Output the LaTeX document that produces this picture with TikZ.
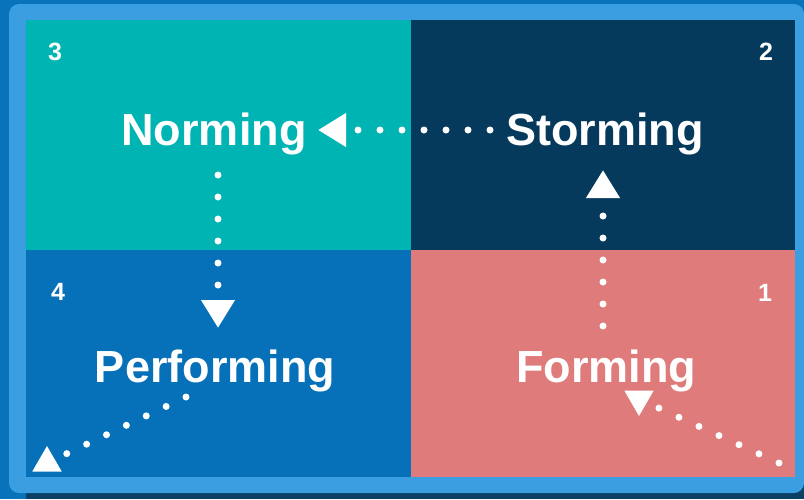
\documentclass[tikz,border=0pt]{standalone}
\usepackage{fontspec}
\setmainfont{Liberation Sans}
\usetikzlibrary{arrows.meta,shapes.geometric}

\definecolor{frameDark}{HTML}{0872BA}
\definecolor{frameLight}{HTML}{3A9EE0}
\definecolor{frameShadow}{HTML}{0B3F63}
\definecolor{qTeal}{HTML}{00B4B4}
\definecolor{qNavy}{HTML}{063A5C}
\definecolor{qBlue}{HTML}{0670B8}
\definecolor{qSalmon}{HTML}{E07B7B}

\begin{document}
\begin{tikzpicture}[x=1pt,y=-1pt,
  stage/.style={text=white,font=\bfseries\fontsize{45}{45}\selectfont,anchor=base,inner sep=0pt},
  num/.style={text=white,font=\bfseries\fontsize{25}{25}\selectfont,inner sep=0pt},
  dots/.style={draw=white,line width=7pt,line cap=round,dash pattern=on 0pt off 22pt},
  flow/.style={dots,-{Triangle[length=28pt,width=32pt]}},
  tri/.style={regular polygon,regular polygon sides=3,fill=white,minimum size=34pt,inner sep=0pt}]

\useasboundingbox (0,0) rectangle (804,499);

% frame
\fill[frameDark] (0,0) rectangle (804,499);
\fill[frameShadow] (26,480) rectangle (804,499);
\fill[frameLight, rounded corners=10pt] (9,4) rectangle (804,493);

% quadrants
\fill[qTeal]   (26,20)  rectangle (411,250);
\fill[qNavy]   (411,20) rectangle (795,250);
\fill[qBlue]   (26,250) rectangle (411,477);
\fill[qSalmon] (411,250) rectangle (795,477);

% stage names
\node[stage] (norming)    at (214,145) {Norming};
\node[stage] (storming)   at (605,145) {Storming};
\node[stage] (performing) at (215,382) {Performing};
\node[stage] (forming)    at (606,382) {Forming};

% stage numbers
\node[num] (n1) at (765,293) {1};
\node[num] (n2) at (766,52)  {2};
\node[num] (n3) at (55,52)   {3};
\node[num] (n4) at (58,292)  {4};

% connector ends
\coordinate (stormOut) at (490,130);
\coordinate (normIn)   at (318,130);
\coordinate (normOut)  at (218,175);
\coordinate (perfIn)   at (218,328);
\coordinate (formOut)  at (603,326);
\coordinate (stormIn)  at (603,170);
\coordinate (perfOut)  at (186,397);
\coordinate (formIn)   at (779,463);

% corner triangles
\node[tri] (triLeft)  at (47,463) {};
\node[tri, shape border rotate=180] (triRight) at (639,399) {};

% connectors
\draw[flow] (stormOut) -- (normIn);
\draw[flow] (normOut) -- (perfIn);
\draw[flow] (formOut) -- (stormIn);
\draw[dots] (perfOut) -- (triLeft);
\draw[dots] (formIn) -- (triRight);
\end{tikzpicture}
\end{document}
